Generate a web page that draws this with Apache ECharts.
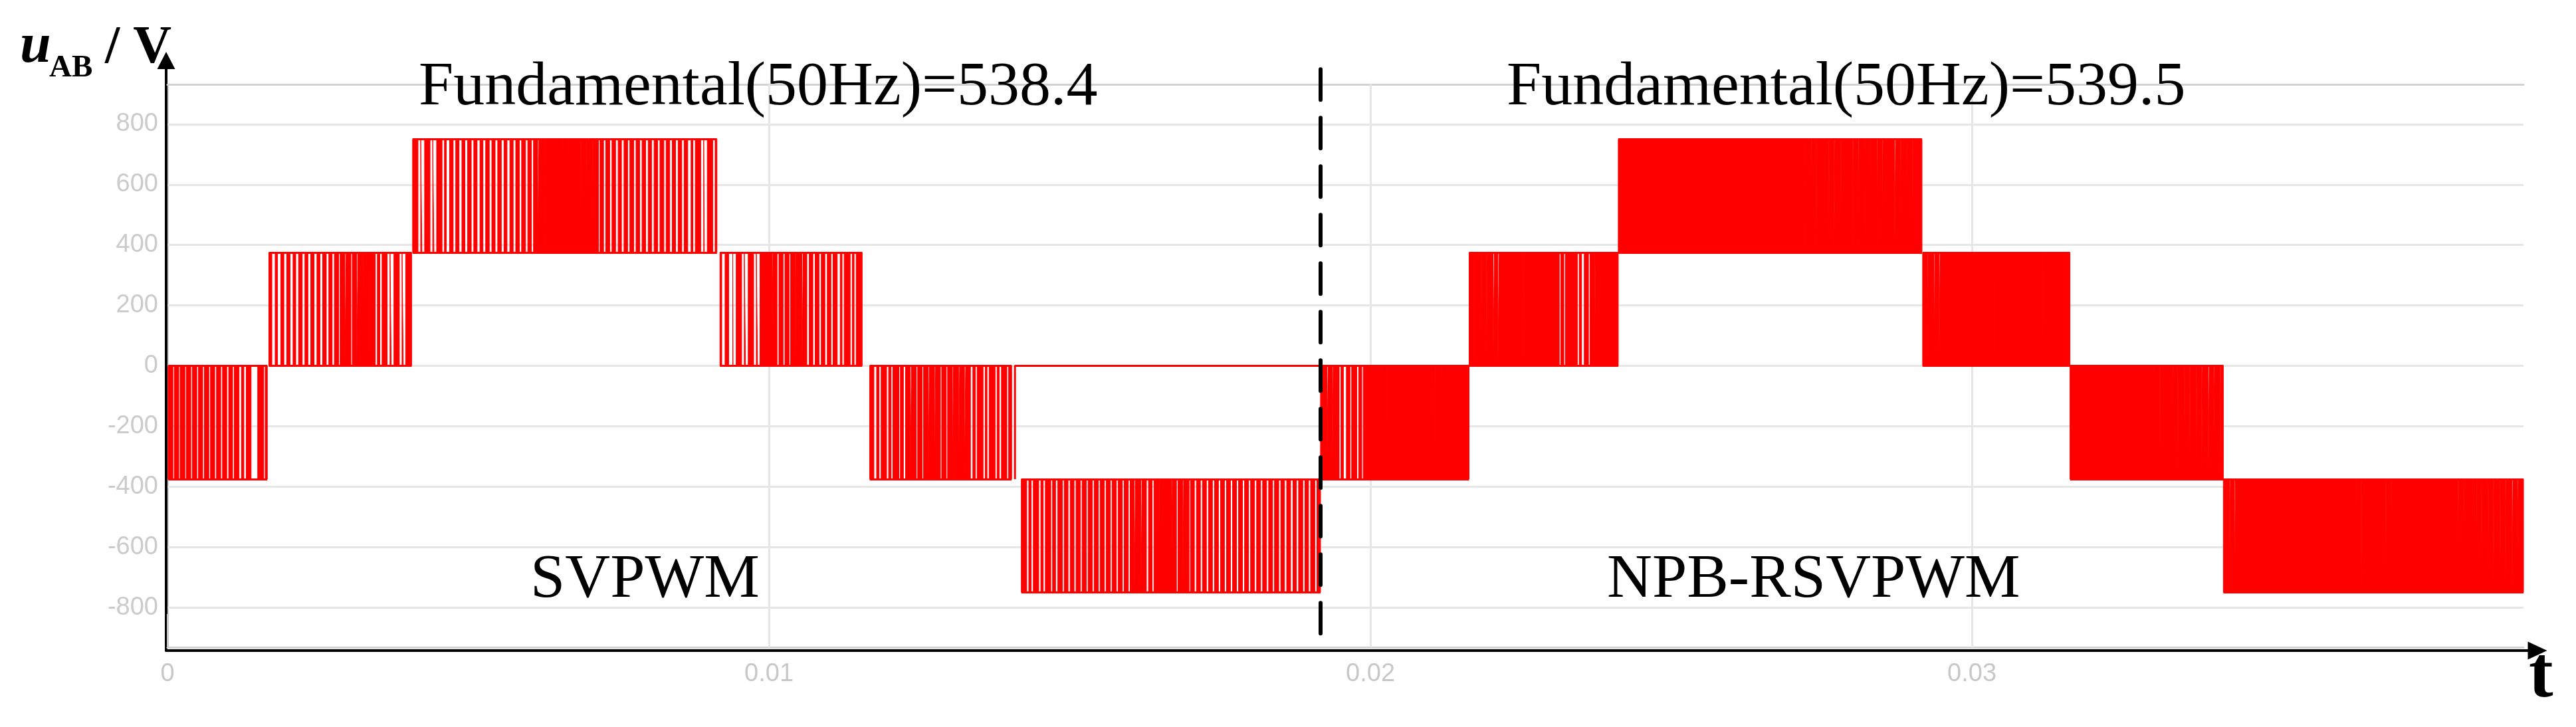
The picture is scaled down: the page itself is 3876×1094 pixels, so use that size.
<!DOCTYPE html>
<html><head><meta charset="utf-8">
<script src="https://cdn.jsdelivr.net/npm/echarts@6/dist/echarts.min.js"></script>
<style>html,body{margin:0;padding:0;background:#fff}#c{width:3876px;height:1094px}</style>
</head><body><div id="c"></div>
<script>
// ---------- data ----------
const xTicks = [0, 0.01, 0.02, 0.03];                       // s
const yTicks = [-800, -600, -400, -200, 0, 200, 400, 600, 800]; // V
const sectionSplit = 0.01917;                               // s, dashed boundary
const splitSpan = [982, -888];                              // V, extent of the dashed boundary
const fundamentals = ['Fundamental(50Hz)=538.4', 'Fundamental(50Hz)=539.5'];
const methods = ['SVPWM', 'NPB-RSVPWM'];
const cellDur = 0.0001;                                     // s, one reading cell
// segment boundaries (s)
const svEdges = [0, 0.00166, 0.00407, 0.00915, 0.01156, 0.01409, 0.01918];
const npEdges = [0.01918, 0.02164, 0.02412, 0.02917, 0.03163, 0.03418, 0.03917];
// voltage level pair of each segment (V)
const segLevels = [[-375, 0], [0, 375], [375, 750], [0, 375], [-375, 0], [-750, -375]];
// switching-activity (red share) per 0.1 ms cell, SVPWM segments
const sv1 = [0.8,0.75,0.8,0.75,0.75,0.7,0.75,0.7,0.7,0.7,0.65,0.8,0.4,0.8,0,1.0,0.5];
const sv2 = [0.5,0.4,0.5,0.55,0.45,0.6,0.5,0.55,0.5,0.6,0.55,0.7,0.8,0.8,0.75,0.85,1.0,0.9,0.4,0.85,0.2,0.9,0.2,1.0];
const sv3 = [0.9,0.2,0.9,0.2,0.9,0.3,0.6,0.55,0.5,0.6,0.55,0.5,0.6,0.55,0.6,0.5,0.55,0.6,0.65,0.6,0.7,
             0.9,0.95,1,1,0.9,1,1,0.9,0.95,0.9,0.6,0.65,0.6,0.55,0.6,0.65,0.6,0.6,0.55,0.6,0.65,0.6,0.55,0.6,
             0.6,0.3,0.9,0.1,0.9,0.3];
const sv4 = [0.3,0.6,0.05,0.9,0.2,0.9,0.2,1,1,0.7,0.7,0.7,0.8,1,0.6,0.6,0.65,0.6,0.6,0.7,0.3,1,0.3,1];
const sv5 = [0,0.7,0.4,0.9,0.4,1,0.5,0.8,0.8,0.75,0.8,0.85,0.8,0.75,0.8,0.85,0.8,0.8,0.4,1,0.3,1,0.35,0.9,0.5,0.3];
const sv6 = [0,0.9,0.4,0.9,0.4,0.9,0.5,0.75,0.65,0.65,0.7,0.7,0.7,0.7,0.7,0.7,0.7,0.7,0.7,0.7,
             0.9,0.7,0.6,0.8,1,1,0.7,0.8,0.9,0.65,0.65,0.65,0.65,0.65,0.65,0.65,0.65,0.65,0.65,0.65,0.65,0.65,0.65,
             0.7,0.6,0.65,0.55,0.7,0.6,0.7,0.6];
// NPB-RSVPWM segments
const np1 = [0.9,0.7,1,0.4,0.6,0.85,0.5,1,1,1,0.95,1,1,1,0.95,1,1,1,1,0.95,1,1,1,1,1];
const np2 = [1,1,0.8,1,0.6,1,1,1,1,0.9,1,1,1,1,1,0.5,1,1,0.4,0.7,0.8,1,1,1,1];
const np3 = [1,1,1,1,1,1,1,1,1,1,1,1,1,1,1,1,1,1,1,1,1,1,1,1,1,1,1,1,1,1,
             0.9,1,0.85,1,1,0.8,1,0.9,1,0.8,1,0.85,1,0.8,1,0.9,0.8,1,0.85,1,0.9];
const np4 = [0.8,1,0.7,1,1,1,1,1,1,1,1,0.9,1,1,1,1,1,1,1,1,0.9,1,1,1,1];
const np5 = [1,1,1,1,1,1,1,1,1,1,1,1,1,1,0.9,1,1,0.85,1,0.8,1,0.8,1,0.7,1,0.8];
const np6 = [1,0.7,1,1,1,1,1,1,1,1,1,1,1,1,1,1,1,1,1,1,1,1,0.85,1,1,1,1,0.85,
             1,1,1,1,1,1,1,1,1,1,1,0.8,1,1,0.8,1,0.8,1,0.8,1,0.7,1];
// extra trace piece at the end of the SVPWM capture (t, V)
const svTail = [[0.01409, -375], [0.01409, 0], [0.01918, 0], [0.01918, -375]];

// ---------- build ----------
const RED = '#ff0000';
const X_MAX = 0.03917, Y_MIN = -932, Y_MAX = 932;
function segSeries(t0, t1, lv, cells) {
  const lo = lv[0], hi = lv[1];
  const pts = [];
  let first = null, last = null;
  cells.forEach((f, i) => {
    if (f <= 0) return;
    const c = t0 + (i + 0.5) * cellDur;
    let a = Math.max(t0, c - f * cellDur / 2), b = Math.min(t1, c + f * cellDur / 2);
    if (b <= a) return;
    if (first === null) first = a;
    last = b;
    pts.push([a, lo], [a, hi], [b, hi], [b, lo]);
  });
  return {
    type: 'line', xAxisIndex: 0, yAxisIndex: 0, data: pts, showSymbol: false, z: 3,
    animation: false, silent: true,
    lineStyle: { color: RED, width: 1 },
    areaStyle: { color: RED, opacity: 1, origin: lo },
    markLine: {
      silent: true, z: 4, symbol: ['none', 'none'], animation: false, label: { show: false },
      lineStyle: { color: RED, width: 3, type: 'solid', opacity: 1 },
      data: [[{ coord: [first, hi] }, { coord: [last, hi] }], [{ coord: [first, lo] }, { coord: [last, lo] }]]
    }
  };
}
const svCells = [sv1, sv2, sv3, sv4, sv5, sv6];
const npCells = [np1, np2, np3, np4, np5, np6];
const series = [];
// grid lines (beneath the trace)
series.push({
  type: 'line', xAxisIndex: 0, yAxisIndex: 0, data: [], z: 1, silent: true, animation: false,
  markLine: {
    silent: true, z: 1, symbol: ['none', 'none'], animation: false, label: { show: false },
    lineStyle: { color: '#e6e6e6', width: 3, type: 'solid' },
    data: yTicks.map(v => ({ yAxis: v })).concat(xTicks.filter(v => v > 0).map(v => ({ xAxis: v })))
  }
});
svCells.forEach((c, i) => series.push(segSeries(svEdges[i], svEdges[i + 1], segLevels[i], c)));
npCells.forEach((c, i) => series.push(segSeries(npEdges[i], npEdges[i + 1], segLevels[i], c)));
series.push({ type: 'line', xAxisIndex: 0, yAxisIndex: 0, data: svTail, showSymbol: false, z: 3, silent: true,
  animation: false, lineStyle: { color: RED, width: 3 } });
// dashed separator, drawn in the outer (arrow-axis) grid that shares the same scales
series.push({
  type: 'line', xAxisIndex: 2, yAxisIndex: 1, data: [], z: 8, silent: true, animation: false,
  markLine: {
    silent: true, z: 8, symbol: ['none', 'none'], animation: false, label: { show: false },
    lineStyle: { color: '#000', width: 6, type: [46, 27], cap: 'round', opacity: 1 },
    data: [[{ coord: [sectionSplit, splitSpan[0]] }, { coord: [sectionSplit, splitSpan[1]] }]]
  }
});

const serif = '"Liberation Serif", "Times New Roman", serif';
const txt = (x, y, text, font) => ({ type: 'text', x, y, silent: true, z: 20,
  style: { text, font, fill: '#000', verticalAlign: 'top', align: 'left' } });

// outer grid geometry -> matching value extents (same px/unit as the plot grid)
const G0 = { left: 252, right: 79, top: 127, bottom: 120 };
const G1 = { left: 250, right: 72, top: 104, bottom: 115 };
const W = 3876, H = 1094;
const pxPerS = (W - G0.left - G0.right) / X_MAX;
const pxPerV = (H - G0.top - G0.bottom) / (Y_MAX - Y_MIN);
const x1Min = (G1.left - G0.left) / pxPerS;
const x1Max = X_MAX + ((W - G1.right) - (W - G0.right)) / pxPerS;
const y1Max = Y_MAX + (G0.top - G1.top) / pxPerV;
const y1Min = Y_MIN - ((H - G1.bottom) - (H - G0.bottom)) / pxPerV;

const chart = echarts.init(document.getElementById('c'), null, { renderer: 'canvas' });
chart.setOption({
  backgroundColor: '#fff',
  animation: false,
  grid: [G0, G1],
  xAxis: [
    { type: 'value', gridIndex: 0, min: 0, max: X_MAX,
      axisLine: { show: true, onZero: false, lineStyle: { color: '#d2d2d2', width: 3 } },
      axisTick: { show: true, inside: true, length: 50, customValues: xTicks, lineStyle: { color: '#c8c8c8', width: 3 } },
      axisLabel: { show: true, customValues: xTicks, margin: 22, color: '#c8c8c8', fontSize: 38,
        fontFamily: '"Liberation Sans", Arial, sans-serif',
        formatter: v => (v === 0 ? '0' : v.toFixed(2)) },
      splitLine: { show: false } },
    { type: 'value', gridIndex: 0, position: 'top', min: 0, max: X_MAX,
      axisLine: { show: true, onZero: false, lineStyle: { color: '#d2d2d2', width: 3 } },
      axisTick: { show: false }, axisLabel: { show: false }, splitLine: { show: false } },
    { type: 'value', gridIndex: 1, min: x1Min, max: x1Max,
      axisLine: { show: true, onZero: false, symbol: ['none', 'triangle'], symbolSize: [27, 29], symbolOffset: [0, 14],
        lineStyle: { color: '#000', width: 4 } },
      axisTick: { show: false }, axisLabel: { show: false }, splitLine: { show: false } }
  ],
  yAxis: [
    { type: 'value', gridIndex: 0, min: Y_MIN, max: Y_MAX,
      axisLine: { show: true, onZero: false, lineStyle: { color: '#d2d2d2', width: 3 } },
      axisTick: { show: true, inside: true, length: 52, customValues: yTicks, lineStyle: { color: '#c8c8c8', width: 3 } },
      axisLabel: { show: true, customValues: yTicks, margin: 14, color: '#cbcbcb', fontSize: 38,
        fontFamily: '"Liberation Sans", Arial, sans-serif' },
      splitLine: { show: false } },
    { type: 'value', gridIndex: 1, min: y1Min, max: y1Max,
      axisLine: { show: true, onZero: false, symbol: ['none', 'triangle'], symbolSize: [27, 26], symbolOffset: [0, 13],
        lineStyle: { color: '#000', width: 4 } },
      axisTick: { show: false }, axisLabel: { show: false }, splitLine: { show: false } }
  ],
  series: series,
  graphic: [
    txt(630, 85, fundamentals[0], '94px ' + serif),
    txt(2267, 85, fundamentals[1], '94px ' + serif),
    txt(798, 826, methods[0], '94px ' + serif),
    txt(2418, 826, methods[1], '94px ' + serif),
    txt(30, 29, 'u', 'italic bold 84px ' + serif),
    txt(74, 79, 'AB', 'bold 47px ' + serif),
    txt(158, 33, '/ V', 'bold 80px ' + serif),
    txt(3805, 965, 't', 'bold 110px ' + serif)
  ]
});
</script>
</body></html>
